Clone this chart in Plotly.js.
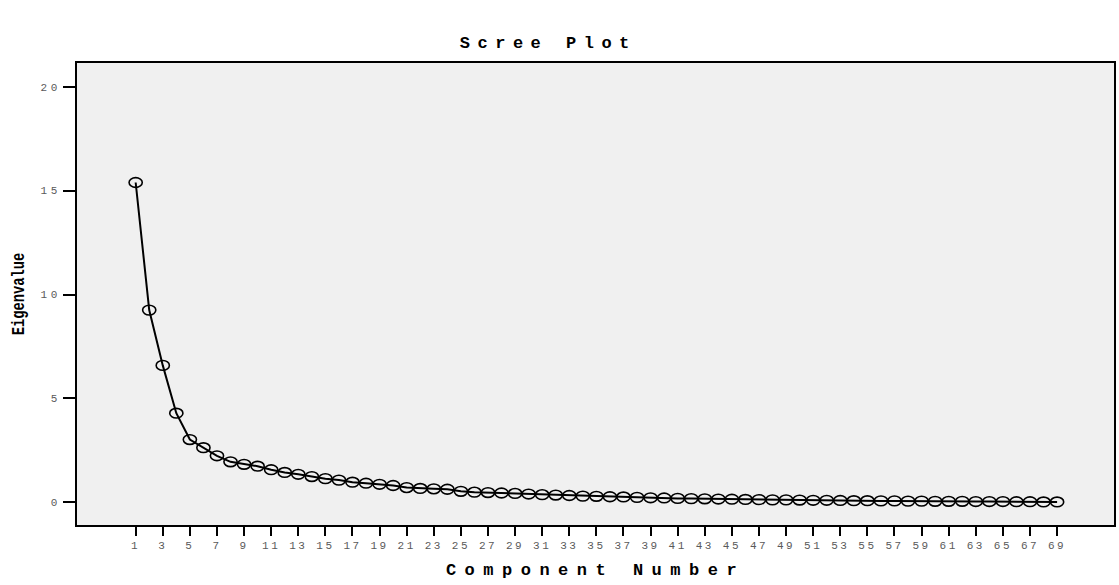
<!DOCTYPE html>
<html>
<head>
<meta charset="utf-8">
<script src="https://cdn.plot.ly/plotly-3.0.1.min.js"></script>
<style>
  html, body { margin: 0; padding: 0; background: #ffffff; }
  #chart { width: 1119px; height: 585px; }
  .xtick text { letter-spacing: 2.5px; }
  .ytick text { letter-spacing: 3.5px; }
  .gtitle { letter-spacing: 7.5px; }
  .xtitle { letter-spacing: 8.5px; }
</style>
</head>
<body>
<div id="chart"></div>
<script>
// Component numbers (x)
const components = [1,2,3,4,5,6,7,8,9,10,11,12,13,14,15,16,17,18,19,20,
  21,22,23,24,25,26,27,28,29,30,31,32,33,34,35,36,37,38,39,40,
  41,42,43,44,45,46,47,48,49,50,51,52,53,54,55,56,57,58,59,60,
  61,62,63,64,65,66,67,68,69];

// Eigenvalues
const eigenvalues = [15.39,9.25,6.59,4.29,3.02,2.63,2.24,1.95,1.83,1.74,
  1.57,1.44,1.35,1.24,1.14,1.07,0.97,0.92,0.87,0.81,
  0.71,0.67,0.65,0.63,0.53,0.49,0.47,0.45,0.43,0.40,
  0.37,0.35,0.33,0.30,0.29,0.27,0.26,0.24,0.22,0.21,
  0.19,0.18,0.17,0.16,0.15,0.14,0.13,0.12,0.12,0.11,
  0.10,0.10,0.09,0.08,0.08,0.07,0.07,0.06,0.06,0.05,
  0.05,0.05,0.04,0.04,0.04,0.03,0.03,0.02,0.02];

// Tick labels
const xTickVals = [1,3,5,7,9,11,13,15,17,19,21,23,25,27,29,31,33,35,37,39,
  41,43,45,47,49,51,53,55,57,59,61,63,65,67,69];
const yTickVals = [0,5,10,15,20];

const mono = 'Liberation Mono, Courier New, monospace';

const trace = {
  type: 'scatter',
  mode: 'lines+markers',
  x: components,
  y: eigenvalues,
  line: { color: '#000000', width: 2 },
  marker: { symbol: 'circle-open', size: 11, color: '#000000', line: { width: 1.6, color: '#000000' } },
  hoverinfo: 'x+y',
  showlegend: false
};

const axisCommon = {
  showgrid: false,
  zeroline: false,
  showline: true,
  mirror: true,
  linecolor: '#000000',
  linewidth: 2,
  ticks: 'outside',
  tickcolor: '#000000',
  tickwidth: 2,
  tickfont: { family: mono, size: 11, color: '#5a5a5a' }
};

const layout = {
  width: 1119,
  height: 585,
  paper_bgcolor: '#ffffff',
  plot_bgcolor: '#f0f0f0',
  margin: { l: 77, r: 5, t: 63, b: 60 },
  title: {
    text: 'Scree Plot',
    font: { family: mono, size: 17, weight: 'bold', color: '#000000' },
    x: 0.49, xref: 'container', xanchor: 'center',
    y: 0.928, yref: 'container', yanchor: 'middle'
  },
  xaxis: Object.assign({}, axisCommon, {
    range: [-3.33, 73.2],
    tickmode: 'array',
    tickvals: xTickVals,
    ticktext: xTickVals.map(String),
    ticklen: 9,
    tickangle: 0,
    title: { text: 'Component Number', font: { family: mono, size: 17, weight: 'bold', color: '#000000' }, standoff: 12 }
  }),
  yaxis: Object.assign({}, axisCommon, {
    range: [-1.09, 21.14],
    tickmode: 'array',
    tickvals: yTickVals,
    ticktext: yTickVals.map(String),
    ticklen: 12,
    title: { text: 'Eigenvalue', font: { family: mono, size: 15, weight: 'bold', color: '#000000' }, standoff: 12 }
  })
};

Plotly.newPlot('chart', [trace], layout, { displayModeBar: false, staticPlot: true }).then(function (gd) {
  // make the open markers slightly elliptical, as in the reference
  gd.querySelectorAll('.scatterlayer path.point').forEach(function (p) {
    const t = p.getAttribute('transform') || '';
    p.setAttribute('transform', t + ' scale(1.2,0.88)');
    p.setAttribute('vector-effect', 'non-scaling-stroke');
  });
  // condensed, taller y-axis title like the reference
  const yt = gd.querySelector('.ytitle');
  if (yt) {
    const x = parseFloat(yt.getAttribute('x'));
    const y = parseFloat(yt.getAttribute('y'));
    const t = yt.getAttribute('transform') || '';
    yt.setAttribute('transform', t + ' translate(' + x + ',' + y + ') scale(0.92,1.2) translate(' + (-x) + ',' + (-y) + ')');
  }
});
</script>
</body>
</html>
